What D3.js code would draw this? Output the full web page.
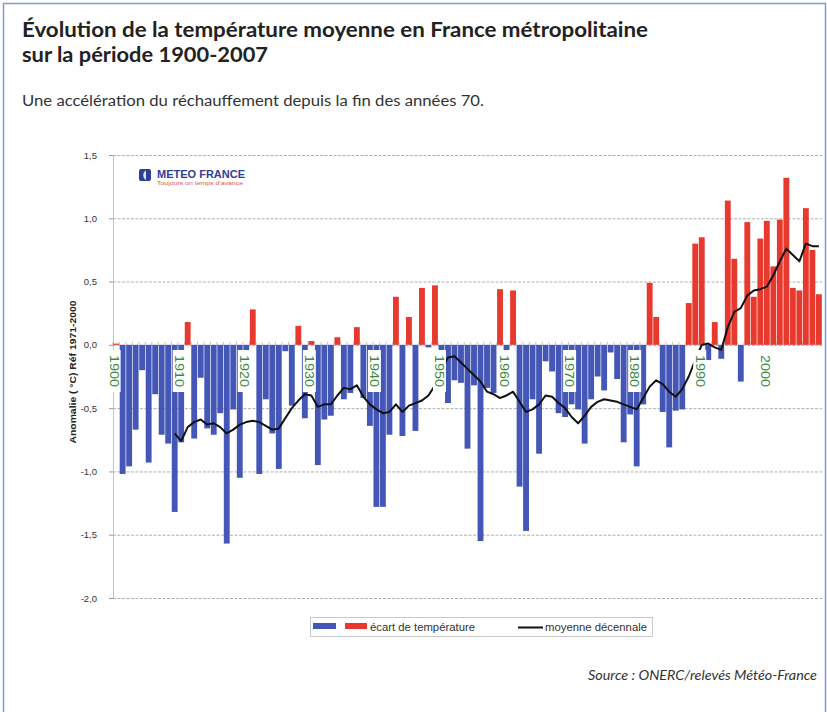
<!DOCTYPE html>
<html><head><meta charset="utf-8">
<script src="https://cdn.jsdelivr.net/npm/d3@7"></script>
<style>body{margin:0;background:#fff;} svg{display:block;}</style>
</head><body>
<svg id="chart" width="827" height="712"></svg>
<script>
// ---------- DATA ----------
const years = d3.range(1900, 2009);
const anomalies = [
 0.01,-1.02,-0.96,-0.67,-0.20,-0.93,-0.39,-0.71,-0.78,-1.32,
 -0.77,0.18,-0.74,-0.26,-0.66,-0.71,-0.54,-1.57,-0.51,-1.05,
 -0.30,0.28,-1.02,-0.43,-0.70,-0.98,-0.05,-0.48,0.15,-0.58,
 0.03,-0.95,-0.59,-0.56,0.06,-0.43,-0.38,0.14,-0.42,-0.64,
 -1.28,-1.28,-0.71,0.38,-0.72,0.22,-0.68,0.45,-0.02,0.47,
 -0.10,-0.46,-0.28,-0.30,-0.82,-0.32,-1.55,-0.34,-0.38,0.44,
 -0.09,0.43,-1.12,-1.47,-0.43,-0.86,-0.13,-0.21,-0.54,-0.57,
 -0.47,-0.51,-0.78,-0.43,-0.25,-0.36,-0.06,-0.27,-0.77,-0.55,
 -0.96,-0.47,0.49,0.22,-0.53,-0.81,-0.52,-0.51,0.33,0.80,
 0.85,-0.12,0.18,-0.11,1.14,0.68,-0.29,0.97,0.38,0.84,
 0.98,0.62,0.99,1.32,0.45,0.43,1.08,0.75,0.40
];
const decadalMean = [
 null,null,null,null,null,null,null,null,null,-0.70,
 -0.76,-0.65,-0.61,-0.59,-0.63,-0.62,-0.65,-0.70,-0.67,-0.63,
 -0.61,-0.60,-0.61,-0.64,-0.67,-0.66,-0.58,-0.50,-0.44,-0.39,
 -0.40,-0.49,-0.47,-0.47,-0.40,-0.34,-0.35,-0.32,-0.41,-0.47,
 -0.51,-0.54,-0.53,-0.47,-0.53,-0.48,-0.46,-0.44,-0.40,-0.32,
 -0.20,-0.10,-0.09,-0.14,-0.19,-0.24,-0.29,-0.37,-0.39,-0.42,
 -0.40,-0.37,-0.45,-0.53,-0.51,-0.47,-0.40,-0.41,-0.46,-0.50,
 -0.57,-0.62,-0.56,-0.49,-0.45,-0.43,-0.44,-0.45,-0.47,-0.49,
 -0.51,-0.42,-0.33,-0.28,-0.31,-0.37,-0.41,-0.35,-0.25,-0.12,
 0.00,0.01,-0.02,-0.04,0.14,0.26,0.29,0.39,0.43,0.44,
 0.46,0.55,0.66,0.76,0.71,0.66,0.80,0.78,0.78
];
const yTicks = [1.5, 1.0, 0.5, 0.0, -0.5, -1.0, -1.5, -2.0];
const decadeLabels = [1900,1910,1920,1930,1940,1950,1960,1970,1980,1990,2000];

const COL_BLUE = "#4456b6", COL_RED = "#e8392f";

// ---------- SETUP ----------
const svg = d3.select("#chart");
const L = 113, R = 822, T = 155, B = 598;
const x = d3.scaleBand().domain(years).range([L, R]).paddingInner(0.1).paddingOuter(0.03);
const y = d3.scaleLinear().domain([-2, 1.5]).range([B, T]);
const fmt = v => v.toFixed(1).replace(".", ",");

// frame
svg.append("path").attr("d", "M3.5,712 L3.5,3.5 L825.5,3.5 L825.5,712")
  .attr("fill", "none").attr("stroke", "#7d9ad6").attr("stroke-width", 1.5);

// titles
svg.append("text").attr("x", 22).attr("y", 37)
  .attr("font-family", "Lato, 'Open Sans', sans-serif").attr("font-weight", 700)
  .attr("font-size", 21).attr("fill", "#222")
  .attr("textLength", 626).attr("lengthAdjust", "spacingAndGlyphs")
  .text("Évolution de la température moyenne en France métropolitaine");
svg.append("text").attr("x", 22).attr("y", 62)
  .attr("font-family", "Lato, 'Open Sans', sans-serif").attr("font-weight", 700)
  .attr("font-size", 21).attr("fill", "#222")
  .attr("textLength", 246).attr("lengthAdjust", "spacingAndGlyphs")
  .text("sur la période 1900-2007");
svg.append("text").attr("x", 22).attr("y", 106)
  .attr("font-family", "Lato, 'Open Sans', sans-serif")
  .attr("font-size", 15.5).attr("fill", "#333")
  .attr("textLength", 462).attr("lengthAdjust", "spacingAndGlyphs")
  .text("Une accélération du réchauffement depuis la fin des années 70.");

// gridlines
const grid = svg.append("g").attr("transform", `translate(${L},0)`)
  .call(d3.axisLeft(y).tickValues(yTicks).tickSize(-(R - L)).tickFormat(""));
grid.select(".domain").remove();
grid.selectAll("line").attr("stroke", "#9a9a9a").attr("stroke-width", 0.8)
  .attr("stroke-dasharray", "3,1.5");

// y axis
const yAxis = svg.append("g").attr("transform", `translate(${L},0)`)
  .call(d3.axisLeft(y).tickValues(yTicks).tickSize(4).tickPadding(12).tickFormat(fmt));
yAxis.select(".domain").attr("stroke", "#b5b5b5").attr("stroke-width", 0.8);
yAxis.selectAll(".tick line").attr("stroke", "#999");
yAxis.selectAll("text").attr("font-family", "Arial, 'Liberation Sans', sans-serif")
  .attr("font-size", 9.5).attr("fill", "#333");

// axis title
svg.append("text").attr("transform", "translate(76,372) rotate(-90)")
  .attr("text-anchor", "middle").attr("font-family", "Arial, 'Liberation Sans', sans-serif")
  .attr("font-weight", 700).attr("font-size", 9.5).attr("fill", "#222")
  .attr("textLength", 143).attr("lengthAdjust", "spacingAndGlyphs")
  .text("Anomalie ( °C) Réf 1971-2000");

// bars
svg.append("g").selectAll("rect").data(years).join("rect")
  .attr("x", d => x(d))
  .attr("width", x.bandwidth())
  .attr("y", (d, i) => y(Math.max(0, anomalies[i])))
  .attr("height", (d, i) => Math.abs(y(anomalies[i]) - y(0)))
  .attr("fill", (d, i) => anomalies[i] >= 0 ? COL_RED : COL_BLUE);

// zero line year ticks
const step = x.step();
svg.append("g").selectAll("line").data(years).join("line")
  .attr("x1", d => x(d) - step * 0.05).attr("x2", d => x(d) - step * 0.05)
  .attr("y1", y(0)).attr("y2", y(0) - 3)
  .attr("stroke", "#999").attr("stroke-width", 0.6);

// decadal mean line
const line = d3.line()
  .defined(d => d.v != null)
  .x(d => x(d.year) + x.bandwidth() / 2)
  .y(d => y(d.v));
svg.append("path")
  .datum(years.map((yr, i) => ({ year: yr, v: decadalMean[i] })))
  .attr("d", line).attr("fill", "none").attr("stroke", "#111")
  .attr("stroke-width", 2).attr("stroke-linejoin", "round");

// decade labels
const lab = svg.append("g").selectAll("g").data(decadeLabels).join("g")
  .attr("transform", d => `translate(${x(d) + x.bandwidth() / 2 - 2},0)`);
lab.append("rect").attr("x", -6.5).attr("y", 350).attr("width", 13).attr("height", 42)
  .attr("fill", "#fff");
lab.append("text").attr("transform", "translate(0,355) rotate(90)")
  .attr("dy", "0.35em").attr("font-family", "Arial, 'Liberation Sans', sans-serif")
  .attr("font-size", 12).attr("fill", "#3c8a3c")
  .attr("textLength", 32).attr("lengthAdjust", "spacingAndGlyphs")
  .text(d => d);

// Meteo France logo
const logo = svg.append("g");
logo.append("rect").attr("x", 139).attr("y", 169).attr("width", 12).attr("height", 12)
  .attr("rx", 2).attr("fill", "#2f3f95");
logo.append("path").attr("d", "M146,170.5 A5.5,5.5 0 0 0 146,180 Z").attr("fill", "#dfe4f5");
logo.append("text").attr("x", 157).attr("y", 178)
  .attr("font-family", "Arial, 'Liberation Sans', sans-serif").attr("font-weight", 700)
  .attr("font-size", 10).attr("fill", "#2f3f95")
  .attr("textLength", 88).attr("lengthAdjust", "spacingAndGlyphs").text("METEO FRANCE");
logo.append("text").attr("x", 157).attr("y", 185)
  .attr("font-family", "Arial, 'Liberation Sans', sans-serif")
  .attr("font-size", 5.5).attr("fill", "#e05555")
  .attr("textLength", 86).attr("lengthAdjust", "spacingAndGlyphs").text("Toujours un temps d'avance");

// legend
const lg = svg.append("g");
lg.append("rect").attr("x", 310.5).attr("y", 617.5).attr("width", 342).attr("height", 19)
  .attr("fill", "#fff").attr("stroke", "#bbb").attr("stroke-width", 0.8);
lg.append("rect").attr("x", 313).attr("y", 623).attr("width", 23).attr("height", 6).attr("fill", COL_BLUE);
lg.append("rect").attr("x", 345).attr("y", 623).attr("width", 22).attr("height", 6).attr("fill", COL_RED);
lg.append("text").attr("x", 370).attr("y", 631)
  .attr("font-family", "Arial, 'Liberation Sans', sans-serif").attr("font-size", 10).attr("fill", "#333")
  .attr("textLength", 105).attr("lengthAdjust", "spacingAndGlyphs").text("écart de température");
lg.append("line").attr("x1", 518).attr("x2", 543).attr("y1", 627.5).attr("y2", 627.5)
  .attr("stroke", "#111").attr("stroke-width", 2);
lg.append("text").attr("x", 545).attr("y", 631)
  .attr("font-family", "Arial, 'Liberation Sans', sans-serif").attr("font-size", 10).attr("fill", "#333")
  .attr("textLength", 102).attr("lengthAdjust", "spacingAndGlyphs").text("moyenne décennale");

// source
svg.append("text").attr("x", 588).attr("y", 680)
  .attr("font-family", "Lato, 'Open Sans', sans-serif").attr("font-style", "italic")
  .attr("font-size", 13).attr("fill", "#333")
  .attr("textLength", 229).attr("lengthAdjust", "spacingAndGlyphs")
  .text("Source : ONERC/relevés Météo-France");
</script>
</body></html>
